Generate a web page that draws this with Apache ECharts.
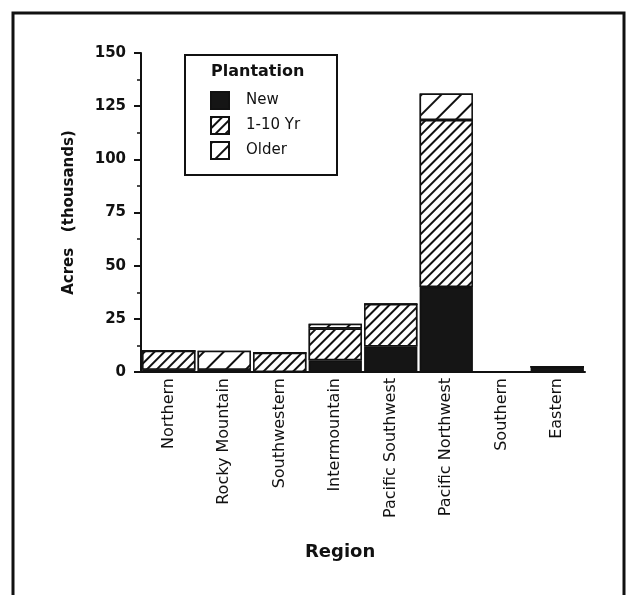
<!DOCTYPE html>
<html>
<head>
<meta charset="utf-8">
<script src="https://cdn.jsdelivr.net/npm/echarts@6/dist/echarts.min.js"></script>
<style>
  html, body { margin: 0; padding: 0; background: #fff; }
  #chart { width: 634px; height: 595px; }
</style>
</head>
<body>
<div id="chart"></div>
<script>
// regions along the x axis
const regions = ['Northern', 'Rocky Mountain', 'Southwestern', 'Intermountain',
    'Pacific Southwest', 'Pacific Northwest', 'Southern', 'Eastern'];

// plantation acres, thousands
const newAcres   = [1, 0, 0, 5.5, 12, 40, 0, 2.5];
const yr1to10    = [9, 1, 9, 15, 20, 78.5, 0, 0];
const olderAcres = [0, 9, 0, 2.2, 0, 12.5, 0, 0];

const yTicks = [0, 25, 50, 75, 100, 125, 150];

const chart = echarts.init(document.getElementById('chart'));

const FONT = 'DejaVu Sans';
const border = { borderColor: '#111', borderWidth: 1.5 };

// "///" hatching, dense for 1-10 Yr and wide for Older
const denseHatch = { symbol: 'rect', dashArrayX: [1, 0], dashArrayY: [2, 4.5], rotation: -Math.PI / 4, color: '#111', backgroundColor: '#fff' };
const wideHatch  = { symbol: 'rect', dashArrayX: [1, 0], dashArrayY: [2, 12], rotation: -Math.PI / 4, color: '#111', backgroundColor: '#fff' };

chart.setOption({
    animation: false,
    backgroundColor: '#fff',
    grid: { left: 141, right: 49, top: 53, bottom: 223 },
    legend: {
        orient: 'vertical',
        left: 210, top: 91,
        itemWidth: 18, itemHeight: 17, itemGap: 6,
        padding: 0,
        icon: 'rect',
        textStyle: { fontFamily: FONT, fontSize: 15, color: '#111', padding: [0, 0, 0, 12] },
        data: ['New', '1-10 Yr', 'Older']
    },
    xAxis: {
        type: 'category',
        data: regions,
        axisLine: { lineStyle: { color: '#111', width: 2 } },
        axisTick: { length: 5, lineStyle: { color: '#111', width: 2 } },
        axisLabel: { rotate: 90, margin: 6, fontFamily: FONT, fontSize: 16, color: '#111' }
    },
    yAxis: {
        type: 'value',
        min: yTicks[0], max: yTicks[yTicks.length - 1], interval: 25,
        name: 'Acres   (thousands)',
        nameLocation: 'middle', nameGap: 64,
        nameTextStyle: { fontFamily: FONT, fontSize: 15, fontWeight: 'bold', color: '#111' },
        axisLine: { show: true, lineStyle: { color: '#111', width: 2 } },
        axisTick: { show: true, length: 7, lineStyle: { color: '#111', width: 2 } },
        minorTick: { show: true, splitNumber: 2, length: 4, lineStyle: { color: '#111', width: 1.5 } },
        splitLine: { show: false },
        axisLabel: { margin: 15, fontFamily: FONT, fontSize: 15, fontWeight: 'bold', color: '#111' }
    },
    series: [
        { name: 'New', type: 'bar', stack: 'a', barCategoryGap: '4%', data: newAcres,
          itemStyle: Object.assign({ color: '#151515' }, border) },
        { name: '1-10 Yr', type: 'bar', stack: 'a', data: yr1to10,
          itemStyle: Object.assign({ color: '#fff', decal: denseHatch }, border) },
        { name: 'Older', type: 'bar', stack: 'a', data: olderAcres,
          itemStyle: Object.assign({ color: '#fff', decal: wideHatch }, border) }
    ],
    graphic: [
        { type: 'rect', shape: { x: 13, y: 13, width: 611, height: 600 },
          style: { fill: null, stroke: '#111', lineWidth: 3 }, silent: true },
        { type: 'rect', shape: { x: 185, y: 55, width: 152, height: 120 },
          style: { fill: null, stroke: '#111', lineWidth: 2 }, silent: true },
        { type: 'text', left: 211, top: 64,
          style: { text: 'Plantation', font: 'bold 16px "DejaVu Sans"', fill: '#111' } },
        { type: 'text', left: 305, top: 543,
          style: { text: 'Region', font: 'bold 18px "DejaVu Sans"', fill: '#111' } }
    ]
});
</script>
</body>
</html>
